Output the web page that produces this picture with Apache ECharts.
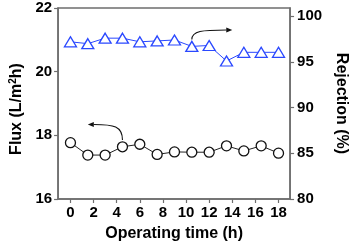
<!DOCTYPE html>
<html><head><meta charset="utf-8">
<script src="https://cdn.jsdelivr.net/npm/echarts@6/dist/echarts.min.js"></script>
<style>html,body{margin:0;padding:0;background:#fff}#c{width:357px;height:247px}</style>
</head><body><div id="c"></div>
<script>
var timeH = [0, 1.5, 3, 4.5, 6, 7.5, 9, 10.5, 12, 13.5, 15, 16.5, 18];
var flux = [17.77, 17.38, 17.38, 17.64, 17.72, 17.40, 17.48, 17.47, 17.47, 17.67, 17.51, 17.67, 17.44];
var rejection = [97.2, 97.0, 97.6, 97.6, 97.2, 97.3, 97.4, 96.7, 96.8, 95.1, 96.05, 96.05, 96.05];
var xTicks = [0, 2, 4, 6, 8, 10, 12, 14, 16, 18];
var fluxTicks = [16, 18, 20, 22];
var rejTicks = [80, 85, 90, 95, 100];
// annotation arrows in data units: [startX, startY, endX, endY, yAxisIndex]
var arrowFlux = [4.5, 17.85, 1.5, 18.34, 0];
var arrowRej = [10.5, 97.45, 14.0, 98.5, 1];

var FONT = '"Liberation Sans", Arial, sans-serif';
var AX = '#6e6e6e';
function pairs(xs, ys){ return xs.map(function(x,i){return [x, ys[i]];}); }

var chart = echarts.init(document.getElementById('c'), null, {renderer:'canvas'});
var lbl = {color:'#000', fontFamily: FONT, fontWeight:'bold', fontSize:15};
var nameStyle = {color:'#000', fontFamily:FONT, fontWeight:'bold', fontSize:16};
chart.setOption({
  animation:false,
  grid:{left:47, right:48, top:8, bottom:46, show:true, borderColor:AX, borderWidth:1.5, containLabel:false},
  xAxis:{type:'value', min:-1.07, max:19,
    name:'Operating time (h)', nameLocation:'middle', nameGap:27,
    nameTextStyle:nameStyle,
    axisLine:{show:true, onZero:false, lineStyle:{color:AX, width:1.5}},
    axisTick:{show:true, inside:false, length:4, customValues:xTicks, lineStyle:{color:AX, width:1.2}},
    axisLabel:Object.assign({margin:6, customValues:xTicks}, lbl),
    splitLine:{show:false}},
  yAxis:[
    {type:'value', min:16, max:22, interval:2, position:'left',
     name:'Flux (L/m{sup|2}h)', nameLocation:'middle', nameGap:28, nameRotate:90,
     nameTextStyle:Object.assign({padding:[0,11,0,0],
       rich:{sup:{fontFamily:FONT, fontWeight:'bold', fontSize:10, color:'#000', verticalAlign:'top', padding:[0,0,7,0]}}}, nameStyle),
     axisLine:{show:true, onZero:false, lineStyle:{color:AX, width:1.5}},
     axisTick:{show:true, inside:false, length:4, customValues:fluxTicks, lineStyle:{color:AX, width:1.2}},
     axisLabel:Object.assign({margin:6, customValues:fluxTicks}, lbl),
     splitLine:{show:false}},
    {type:'value', min:80, max:100.9, position:'right',
     name:'Rejection (%)', nameLocation:'middle', nameGap:30, nameRotate:-90,
     nameTextStyle:nameStyle,
     axisLine:{show:true, onZero:false, lineStyle:{color:AX, width:1.5}},
     axisTick:{show:true, inside:false, length:4, customValues:rejTicks, lineStyle:{color:AX, width:1.2}},
     axisLabel:Object.assign({margin:7, customValues:rejTicks}, lbl),
     splitLine:{show:false}}
  ],
  series:[
    {type:'line', yAxisIndex:0, data:pairs(timeH, flux), symbol:'circle', symbolSize:10,
     lineStyle:{color:'#222', width:1}, itemStyle:{color:'#fff', borderColor:'#111', borderWidth:1.3}, z:3},
    {type:'line', yAxisIndex:1, data:pairs(timeH, rejection), symbol:'triangle', symbolSize:[12,10],
     lineStyle:{color:'#2a48ff', width:1}, itemStyle:{color:'#fff', borderColor:'#2a48ff', borderWidth:1.3}, z:3}
  ]
});

function arrowGraphic(a){
  var s = chart.convertToPixel({xAxisIndex:0, yAxisIndex:a[4]}, [a[0], a[1]]);
  var e = chart.convertToPixel({xAxisIndex:0, yAxisIndex:a[4]}, [a[2], a[3]]);
  var dir = e[0] > s[0] ? 1 : -1;
  var head = 6;
  var ex = e[0] - dir*head;
  var dx = ex - s[0];
  return [
    {type:'bezierCurve', silent:true, z:10,
     shape:{x1:s[0], y1:s[1], x2:ex, y2:e[1], cpx1:s[0], cpy1:e[1]+ (s[1]-e[1])*0.1, cpx2:s[0]+dx*0.3, cpy2:e[1]},
     style:{stroke:'#111', lineWidth:1.1, fill:null}},
    {type:'polygon', silent:true, z:10,
     shape:{points:[[e[0], e[1]], [ex, e[1]-2.5], [ex, e[1]+2.5]]},
     style:{fill:'#111'}}
  ];
}
chart.setOption({graphic: arrowGraphic(arrowFlux).concat(arrowGraphic(arrowRej))});
</script></body></html>
